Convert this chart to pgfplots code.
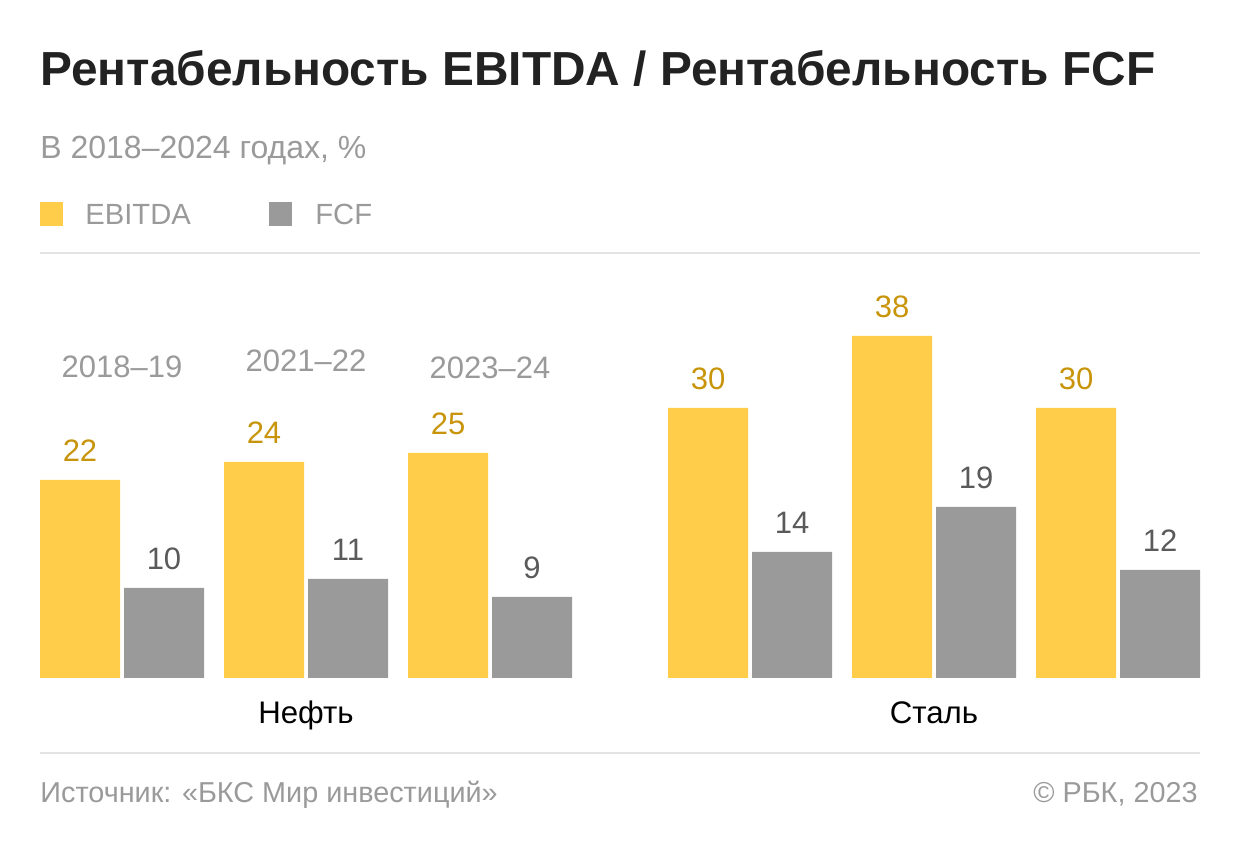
\documentclass[border=0pt]{standalone}
\usepackage{pgfplots}
\pgfplotsset{compat=1.18}
\usepackage{fontspec}
\setmainfont{Liberation Sans}
\newfontfamily\titlefont{Liberation Sans}
\definecolor{ebitda}{HTML}{FFCD4A}
\definecolor{fcf}{HTML}{9A9A9A}
\definecolor{ebitdatxt}{HTML}{C8940A}
\definecolor{fcftxt}{HTML}{5A5A5A}
\definecolor{greytxt}{HTML}{9A9A9A}
\definecolor{titletxt}{HTML}{222222}
\definecolor{rule}{HTML}{E3E3E3}
\begin{document}
\begin{tikzpicture}
\begin{axis}[
  scale only axis, width=620pt, height=425pt,
  xmin=0, xmax=1240, ymin=-19.1111, ymax=75.3333,
  hide axis, clip=false,
  /pgf/number format/assume math mode=true,
  ybar, bar width=40pt, bar shift=0pt,
  nodes near coords,
  nodes near coords style={anchor=base, yshift=9pt, inner sep=0pt, font=\fontsize{15.5}{18}\selectfont},
]
\path (rel axis cs:0,0) rectangle (rel axis cs:1,1);
% EBITDA
\addplot[fill=ebitda, draw=none, nodes near coords style={text=ebitdatxt}] coordinates {
  (80,22) (264,24) (448,25) (708,30) (892,38) (1076,30)};
% FCF
\addplot[fill=fcf, draw=none, nodes near coords style={text=fcftxt}] coordinates {
  (164,10) (348,11) (532,9) (792,14) (976,19) (1160,12)};
% title and subtitle
\node[anchor=base west, inner sep=0pt, text=titletxt, font=\titlefont\bfseries\fontsize{23.9}{28}\selectfont]
  at (axis cs:40,65.78) {Рентабельность EBITDA / Рентабельность FCF};
\node[anchor=base west, inner sep=0pt, text=greytxt, font=\fontsize{16}{19}\selectfont]
  at (axis cs:40,57.67) {В 2018–2024 годах, \%};
% legend
\fill[ebitda] (axis cs:40,52.89) rectangle (axis cs:63,50.22);
\node[anchor=base west, inner sep=0pt, text=greytxt, font=\fontsize{14.6}{18}\selectfont]
  at (axis cs:85,50.44) {EBITDA};
\fill[fcf] (axis cs:269,52.89) rectangle (axis cs:292,50.22);
\node[anchor=base west, inner sep=0pt, text=greytxt, font=\fontsize{14.6}{18}\selectfont]
  at (axis cs:315,50.44) {FCF};
% rules
\draw[rule, line width=1pt] (axis cs:40,47.22) -- (axis cs:1200,47.22);
\draw[rule, line width=1pt] (axis cs:40,-8.33) -- (axis cs:1200,-8.33);
% period labels
\node[anchor=base, inner sep=0pt, text=greytxt, font=\fontsize{15.5}{18}\selectfont] at (axis cs:122,33.44) {2018–19};
\node[anchor=base, inner sep=0pt, text=greytxt, font=\fontsize{15.5}{18}\selectfont] at (axis cs:306,34.0) {2021–22};
\node[anchor=base, inner sep=0pt, text=greytxt, font=\fontsize{15.5}{18}\selectfont] at (axis cs:490,33.33) {2023–24};
% category labels
\node[anchor=base, inner sep=0pt, text=black, font=\fontsize{15.6}{19}\selectfont] at (axis cs:306,-5.1) {Нефть};
\node[anchor=base, inner sep=0pt, text=black, font=\fontsize{15.6}{19}\selectfont] at (axis cs:934,-5.1) {Сталь};
% footer
\node[anchor=base west, inner sep=0pt, text=greytxt, font=\fontsize{14.4}{17}\selectfont]
  at (axis cs:40,-13.78) {Источник: «БКС Мир инвестиций»};
\node[anchor=base east, inner sep=0pt, text=greytxt, font=\fontsize{14.4}{17}\selectfont]
  at (axis cs:1198,-13.78) {© РБК, 2023};
\end{axis}
\end{tikzpicture}
\end{document}
